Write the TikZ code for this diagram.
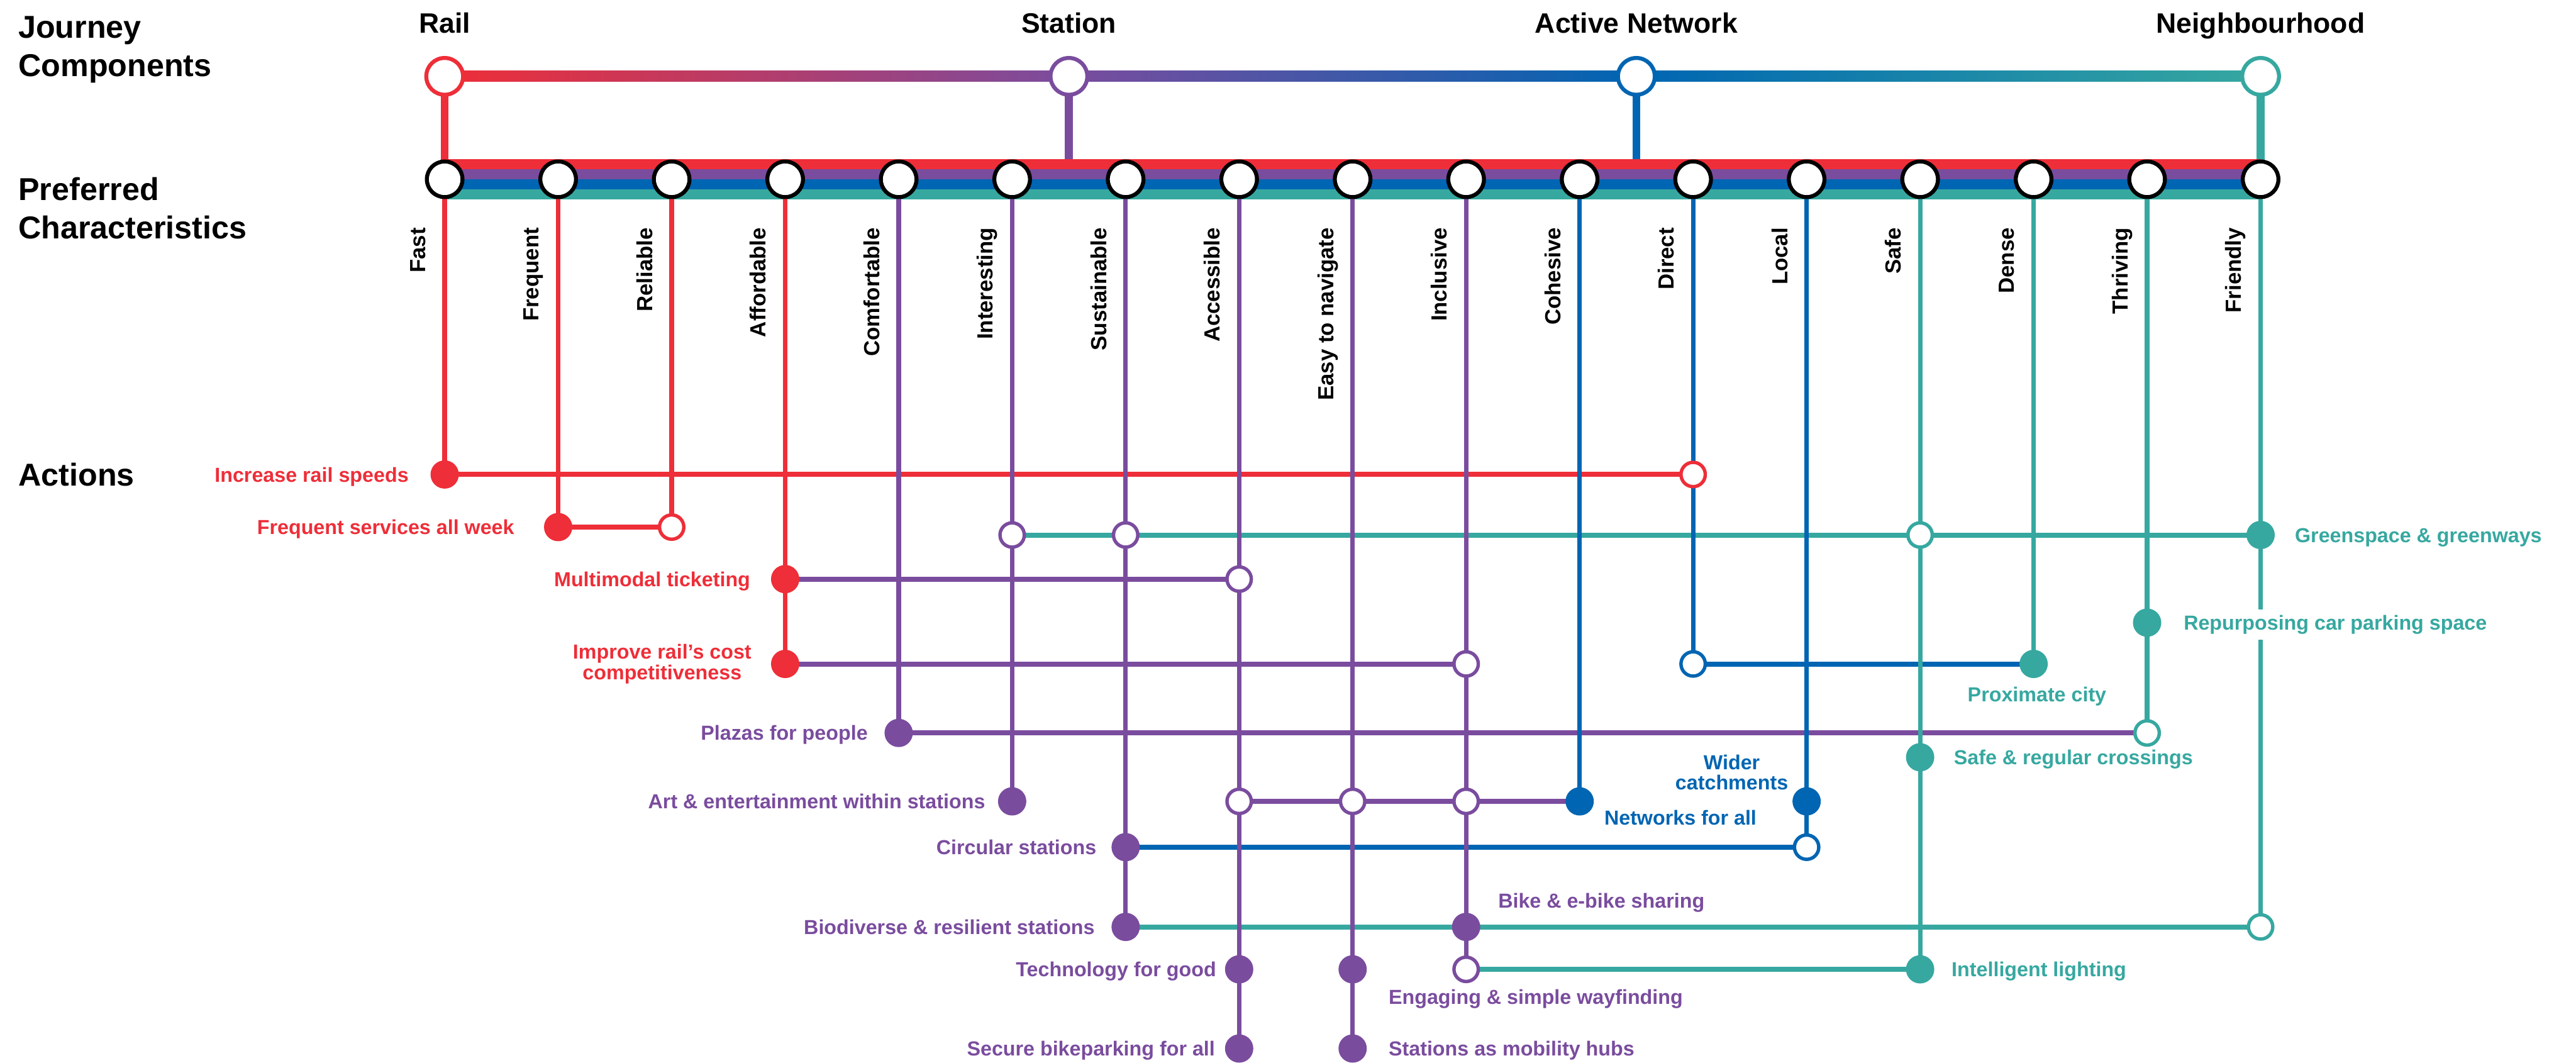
\documentclass[tikz,border=0pt]{standalone}
\usepackage{fontspec}
\setmainfont{Liberation Sans}
\usetikzlibrary{backgrounds}

\definecolor{railred}{RGB}{238,46,56}
\definecolor{stnpurple}{RGB}{122,76,158}
\definecolor{netblue}{RGB}{0,101,178}
\definecolor{hoodteal}{RGB}{54,168,160}

\tikzset{
  heading/.style={font=\fontsize{15.9}{19.2}\selectfont\bfseries, align=left, inner sep=0pt},
  comptxt/.style={font=\fontsize{14.1}{17}\selectfont\bfseries, inner sep=0pt, anchor=base},
  chartxt/.style={font=\fontsize{11}{13}\selectfont\bfseries, inner sep=0pt, rotate=90, anchor=base east},
  acttxt/.style={font=\fontsize{10.2}{10.4}\selectfont\bfseries, inner sep=0pt, text=#1},
  compcirc/.style={circle, draw=#1, line width=0.07cm, fill=white, minimum size=0.65cm, inner sep=0pt},
  charcirc/.style={circle, draw=black, line width=0.07cm, fill=white, minimum size=0.63cm, inner sep=0pt},
  opendot/.style={circle, draw=#1, line width=0.06cm, fill=white, minimum size=0.43cm, inner sep=0pt},
  fulldot/.style={circle, fill=#1, minimum size=0.5cm, inner sep=0pt},
  toplink/.style={line width=0.14cm},
  charline/.style={line width=0.08cm},
  actline/.style={line width=0.09cm}
}

\begin{document}
\begin{tikzpicture}[x=2.006cm,y=-0.01cm]
  \useasboundingbox (-3.918,0) rectangle (18.779,1879);
  % headings on the left
  \node[heading, anchor=north west] (hJourney) at (-3.759,28) {Journey\\Components};
  \node[heading, anchor=north west] (hPref) at (-3.759,313) {Preferred\\Characteristics};
  \node[heading, anchor=base west] (hAct) at (-3.759,859) {Actions};

  % journey components
  \node[compcirc=railred] (rail) at (0,135) {};
  \node[compcirc=stnpurple] (station) at (5.5,135) {};
  \node[compcirc=netblue] (active) at (10.5,135) {};
  \node[compcirc=hoodteal] (hood) at (16,135) {};
  \foreach \cmp/\txt in {rail/Rail,station/Station,active/Active Network,hood/Neighbourhood}
    \node[comptxt] (t\cmp) at ([yshift=0.77cm]\cmp.center) {\txt};

  % preferred characteristics
  \foreach \txt [count=\i from 0] in {Fast,Frequent,Reliable,Affordable,Comfortable,Interesting,Sustainable,Accessible,Easy to navigate,Inclusive,Cohesive,Direct,Local,Safe,Dense,Thriving,Friendly}{
    \node[charcirc] (c\i) at (\i,317) {};
    \node[chartxt] (ct\i) at ([xshift=-0.34cm,yshift=-0.85cm]c\i.center) {\txt};
  }

  % actions
  \foreach \nm/\cx/\ry/\clr in {speed/0/839/railred,freq/1/932/railred,green/16/946/hoodteal,
      ticket/3/1024/railred,park/15/1101/hoodteal,cost/3/1174/railred,prox/14/1174/hoodteal,
      plaza/4/1296/stnpurple,cross/13/1339/hoodteal,art/5/1417/stnpurple,net/10/1417/netblue,
      catch/12/1417/netblue,circ/6/1498/stnpurple,bio/6/1639/stnpurple,bike/9/1639/stnpurple,
      tech/7/1714/stnpurple,way/8/1714/stnpurple,light/13/1714/hoodteal,
      bikepark/7/1854/stnpurple,hub/8/1854/stnpurple}
    \node[fulldot=\clr] (\nm) at (\cx,\ry) {};
  \foreach \nm/\cx/\ry/\clr in {speedD/11/839/railred,freqR/2/932/railred,gInt/5/946/stnpurple,
      gSus/6/946/stnpurple,gSafe/13/946/hoodteal,tAcc/7/1024/stnpurple,cInc/9/1174/stnpurple,
      pDir/11/1174/netblue,plThr/15/1296/hoodteal,nAcc/7/1417/stnpurple,nEasy/8/1417/stnpurple,
      nInc/9/1417/stnpurple,ciLoc/12/1498/netblue,biFr/16/1639/hoodteal,liInc/9/1714/stnpurple}
    \node[opendot=\clr] (\nm) at (\cx,\ry) {};

  % action labels
  \foreach \nm/\dx/\dy/\clr/\txt in {speed/-0.63/-0.13/railred/Increase rail speeds,
      freq/-0.77/-0.13/railred/Frequent services all week,
      ticket/-0.61/-0.13/railred/Multimodal ticketing,
      plaza/-0.54/-0.13/stnpurple/Plazas for people,
      art/-0.47/-0.13/stnpurple/Art \& entertainment within stations,
      circ/-0.51/-0.13/stnpurple/Circular~stations,
      bio/-0.54/-0.13/stnpurple/Biodiverse \& resilient stations,
      tech/-0.40/-0.13/stnpurple/Technology for good,
      bikepark/-0.42/-0.13/stnpurple/Secure bikeparking for all}
    \node[acttxt=\clr, anchor=base east] (l\nm) at ([xshift=\dx cm,yshift=\dy cm]\nm.center) {\txt};
  \foreach \nm/\dx/\dy/\clr/\txt in {green/0.60/-0.13/hoodteal/Greenspace \& greenways,
      cross/0.59/-0.13/hoodteal/Safe \& regular crossings,
      light/0.55/-0.13/hoodteal/Intelligent lighting,
      net/0.43/-0.42/netblue/Networks for all,
      bike/0.56/0.33/stnpurple/Bike \& e-bike sharing,
      way/0.63/-0.62/stnpurple/Engaging \& simple wayfinding,
      hub/0.63/-0.13/stnpurple/Stations as mobility hubs}
    \node[acttxt=\clr, anchor=base west] (l\nm) at ([xshift=\dx cm,yshift=\dy cm]\nm.center) {\txt};
  \node[acttxt=hoodteal, anchor=base west, fill=white, inner ysep=0.1cm] (lpark) at ([xshift=0.64cm,yshift=-0.13cm]park.center) {Repurposing car parking space};
  \node[acttxt=hoodteal, anchor=base] (lprox) at ([xshift=0.06cm,yshift=-0.67cm]prox.center) {Proximate city};
  \node[acttxt=railred, anchor=east, align=center] (lcost) at ([xshift=-0.59cm]cost.center) {Improve rail’s cost\\competitiveness};
  \node[acttxt=netblue, anchor=south east, align=center] (lcatch) at ([xshift=-0.32cm,yshift=0.19cm]catch.center) {Wider\\catchments};

  \begin{pgfonlayer}{background}
    % top line with colour blends
    \shade[left color=railred,right color=stnpurple] ([yshift=0.095cm]rail.center) rectangle ([yshift=-0.095cm]station.center);
    \shade[left color=stnpurple,right color=netblue] ([yshift=0.095cm]station.center) rectangle ([yshift=-0.095cm]active.center);
    \shade[left color=netblue,right color=hoodteal] ([yshift=0.095cm]active.center) rectangle ([yshift=-0.095cm]hood.center);
    \draw[toplink,railred] (rail.center) -- (c0.center);
    \draw[toplink,stnpurple] (station.center) -- (station |- c0.center);
    \draw[toplink,netblue] (active.center) -- (active |- c0.center);
    \draw[toplink,hoodteal] (hood.center) -- (c16.center);
    % four striped band
    \foreach \clr [count=\k from 0] in {railred,stnpurple,netblue,hoodteal}
      \fill[\clr] ([yshift=0.36cm-0.18cm*\k]c0.center) rectangle ([yshift=0.18cm-0.18cm*\k]c16.center);
    % action links
    \foreach \from/\to/\clr in {speed/speedD/railred,freq/freqR/railred,gInt/green/hoodteal,
        ticket/tAcc/stnpurple,cost/cInc/stnpurple,pDir/prox/netblue,plaza/plThr/stnpurple,
        nAcc/net/stnpurple,circ/ciLoc/netblue,bio/biFr/hoodteal,liInc/light/hoodteal}
      \draw[actline,\clr] (\from.center) -- (\to.center);
    % characteristic lines
    \foreach \i/\last/\clr in {0/speed/railred,1/freq/railred,2/freqR/railred,3/cost/railred,
        4/plaza/stnpurple,5/art/stnpurple,6/bio/stnpurple,7/bikepark/stnpurple,8/hub/stnpurple,
        9/liInc/stnpurple,10/net/netblue,11/pDir/netblue,12/ciLoc/netblue,13/light/hoodteal,
        14/prox/hoodteal,15/plThr/hoodteal,16/biFr/hoodteal}
      \draw[charline,\clr] (c\i.center) -- (\last.center);
  \end{pgfonlayer}
\end{tikzpicture}
\end{document}
